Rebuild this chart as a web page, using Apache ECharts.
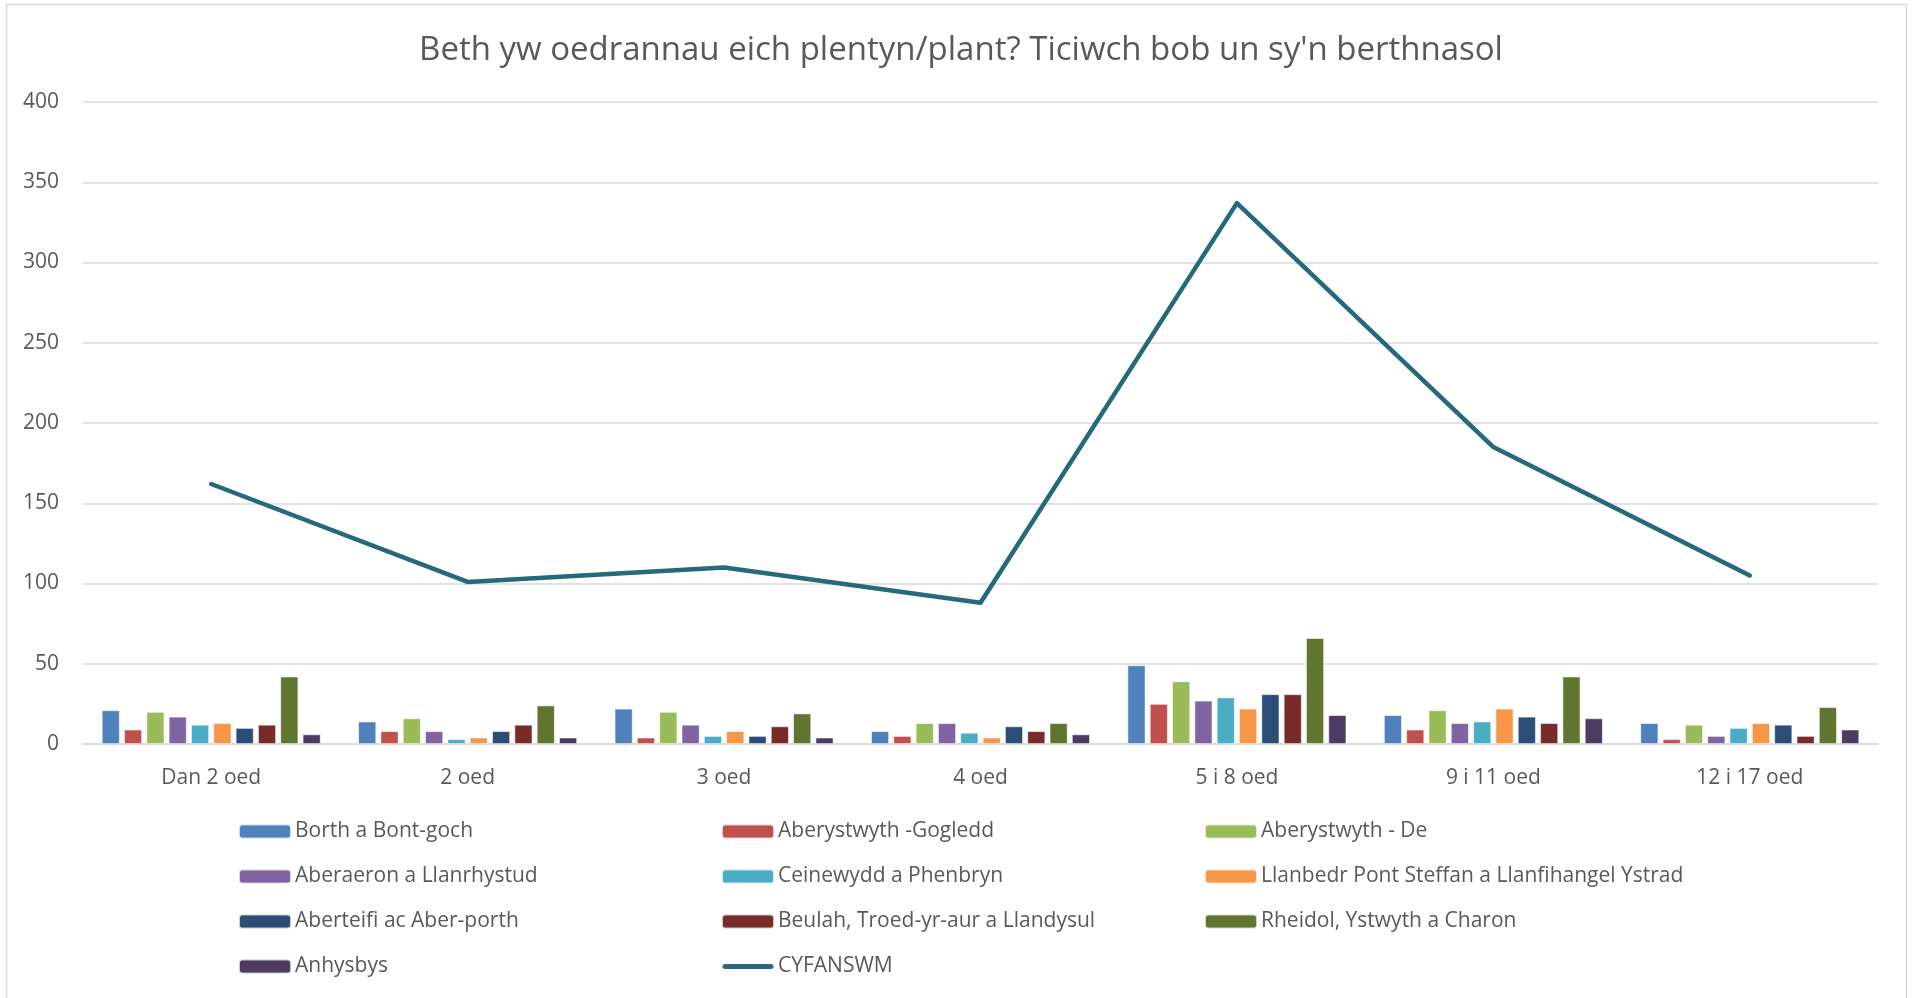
<!DOCTYPE html>
<html>
<head>
<meta charset="utf-8">
<script src="https://cdn.jsdelivr.net/npm/echarts@6/dist/echarts.min.js"></script>
<style>
html,body{margin:0;padding:0;background:#fff;}
#chart{width:1912px;height:998px;}
</style>
</head>
<body>
<div id="chart"></div>
<script>
const titleText = "Beth yw oedrannau eich plentyn/plant? Ticiwch bob un sy'n berthnasol";
const categories = ["Dan 2 oed", "2 oed", "3 oed", "4 oed", "5 i 8 oed", "9 i 11 oed", "12 i 17 oed"];
const seriesNames = [
  "Borth a Bont-goch",
  "Aberystwyth -Gogledd",
  "Aberystwyth - De",
  "Aberaeron a Llanrhystud",
  "Ceinewydd a Phenbryn",
  "Llanbedr Pont Steffan a Llanfihangel Ystrad",
  "Aberteifi ac Aber-porth",
  "Beulah, Troed-yr-aur a Llandysul",
  "Rheidol, Ystwyth a Charon",
  "Anhysbys"
];
const borth      = [21, 14, 22, 8, 49, 18, 13];
const abGogledd  = [9, 8, 4, 5, 25, 9, 3];
const abDe       = [20, 16, 20, 13, 39, 21, 12];
const aberaeron  = [17, 8, 12, 13, 27, 13, 5];
const ceinewydd  = [12, 3, 5, 7, 29, 14, 10];
const llanbedr   = [13, 4, 8, 4, 22, 22, 13];
const aberteifi  = [10, 8, 5, 11, 31, 17, 12];
const beulah     = [12, 12, 11, 8, 31, 13, 5];
const rheidol    = [42, 24, 19, 13, 66, 42, 23];
const anhysbys   = [6, 4, 4, 6, 18, 16, 9];
const totalName  = "CYFANSWM";
const total      = [162, 101, 110, 88, 337, 185, 105];
const yTicks     = [0, 50, 100, 150, 200, 250, 300, 350, 400];

const barData = [borth, abGogledd, abDe, aberaeron, ceinewydd, llanbedr, aberteifi, beulah, rheidol, anhysbys];
const colors = ["#4F81BD", "#C0504D", "#9BBB59", "#8064A2", "#4BACC6", "#F79646", "#2C4D75", "#772C2A", "#5F7530", "#4D3B62"];
const lineColor = "#256A7C";
const FONT = "Open Sans";
const textColor = "#595959";

const series = barData.map((d, i) => ({
  name: seriesNames[i],
  type: 'bar',
  data: d,
  barWidth: 18,
  barGap: '24%',
  itemStyle: { color: colors[i], borderColor: 'rgba(255,255,255,0.7)', borderWidth: 0.8 },
  emphasis: { disabled: true }
}));
series.push({
  name: totalName,
  type: 'line',
  data: total,
  symbol: 'none',
  lineStyle: { color: lineColor, width: 4.5, cap: 'round', join: 'round' },
  itemStyle: { color: lineColor },
  emphasis: { disabled: true }
});

const lineIcon = 'path://M0,0 M52,14 M3,4.5 L49,4.5 A2.5,2.5 0 0 1 49,9.5 L3,9.5 A2.5,2.5 0 0 1 3,4.5 Z';

const legendCommon = {
  orient: 'vertical',
  padding: 0,
  itemWidth: 52,
  itemHeight: 14,
  itemGap: 22,
  textStyle: { color: textColor, fontFamily: FONT, fontSize: 21, lineHeight: 23, padding: [0, 0, 0, -1] },
  selectedMode: false
};
const colX = [238, 721, 1204];
const legends = [
  { data: [seriesNames[0], seriesNames[3], seriesNames[6], seriesNames[9]] },
  { data: [seriesNames[1], seriesNames[4], seriesNames[7], { name: totalName, icon: lineIcon }] },
  { data: [seriesNames[2], seriesNames[5], seriesNames[8]] }
].map((l, i) => Object.assign({}, legendCommon, l, { left: colX[i], top: 820 }));

const chart = echarts.init(document.getElementById('chart'), null, { renderer: 'canvas' });
chart.setOption({
  animation: false,
  backgroundColor: '#fff',
  title: {
    text: titleText,
    left: 956,
    textAlign: 'center',
    top: 29,
    textStyle: { color: textColor, fontFamily: FONT, fontSize: 33, fontWeight: 'normal' }
  },
  graphic: [{
    type: 'rect',
    shape: { x: 6.5, y: 4.5, width: 1900, height: 1000 },
    style: { fill: 'none', stroke: '#d9d9d9', lineWidth: 1.5 },
    silent: true
  }],
  legend: legends,
  grid: { left: 83, right: 34, top: 102, bottom: 254, containLabel: false },
  xAxis: {
    type: 'category',
    data: categories,
    axisLine: { show: true, lineStyle: { color: '#d9d9d9', width: 1.5 } },
    axisTick: { show: false },
    axisLabel: { color: textColor, fontFamily: FONT, fontSize: 21, margin: 24 }
  },
  yAxis: {
    type: 'value',
    min: yTicks[0],
    max: yTicks[yTicks.length - 1],
    interval: yTicks[1] - yTicks[0],
    axisLine: { show: false },
    axisTick: { show: false },
    splitLine: { lineStyle: { color: '#d9d9d9', width: 1.5 } },
    axisLabel: { color: textColor, fontFamily: FONT, fontSize: 21, margin: 24 }
  },
  series: series
});
</script>
</body>
</html>
